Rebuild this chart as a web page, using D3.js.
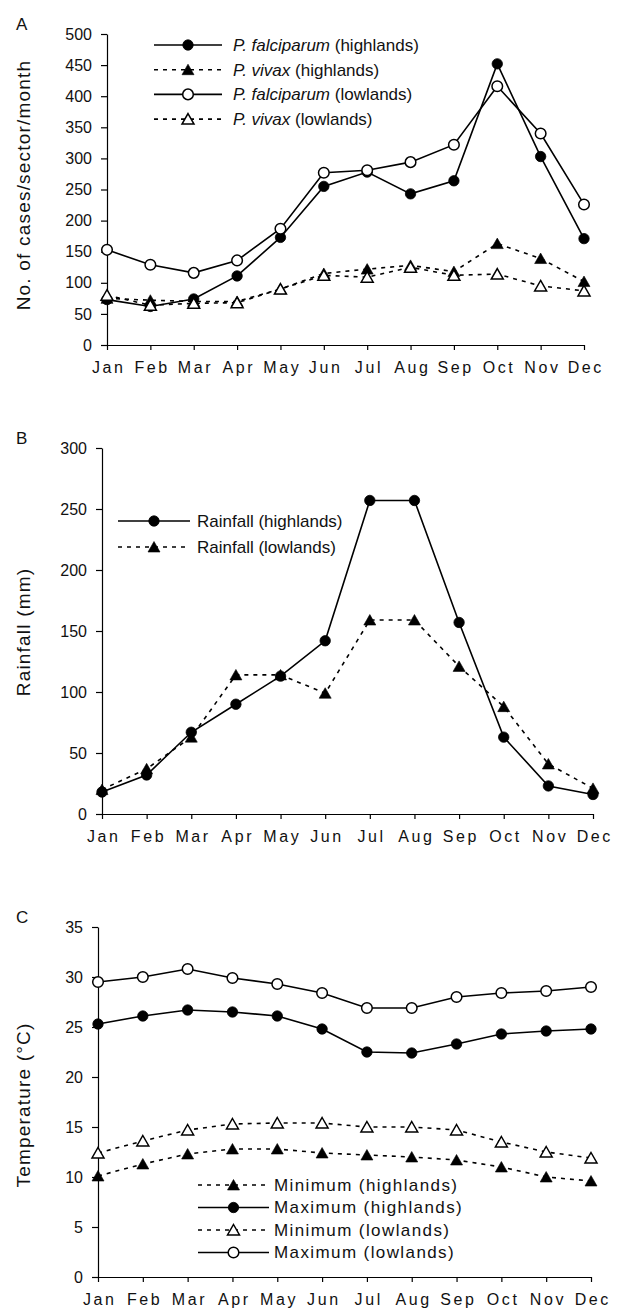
<!DOCTYPE html>
<html>
<head>
<meta charset="utf-8">
<script src="https://cdn.jsdelivr.net/npm/d3@7"></script>
<style>
    body { margin: 0; background: #fff; }
    svg { display: block; font-family: 'Liberation Sans', Arial, Helvetica, sans-serif; }
</style>
</head>
<body>
<svg id="chart" width="621" height="1310"></svg>
<script>
'use strict'

// ---- data ----
let months = ['Jan', 'Feb', 'Mar', 'Apr', 'May', 'Jun', 'Jul', 'Aug', 'Sep', 'Oct', 'Nov', 'Dec']

let casesTicks = [0, 50, 100, 150, 200, 250, 300, 350, 400, 450, 500]
let rainTicks = [0, 50, 100, 150, 200, 250, 300]
let tempTicks = [0, 5, 10, 15, 20, 25, 30, 35]

// A: cases per sector per month
let pfHighlands = [73, 62, 74, 111, 173, 255, 278, 243, 264, 452, 303, 171]
let pvHighlands = [75, 72, 70, 70, 90, 115, 122, 128, 118, 163, 139, 102]
let pfLowlands = [153, 129, 116, 136, 187, 277, 281, 294, 322, 416, 340, 226]
let pvLowlands = [80, 64, 67, 68, 90, 112, 109, 125, 112, 114, 95, 87]

// B: rainfall (mm)
let rainHighlands = [18, 32, 67, 90, 113, 142, 257, 257, 157, 63, 23, 16]
let rainLowlands = [20, 37, 63, 114, 114, 99, 159, 159, 121, 88, 41, 21]

// C: temperature (°C)
let minHighlands = [10.1, 11.3, 12.3, 12.8, 12.8, 12.4, 12.2, 12.0, 11.7, 11.0, 10.0, 9.6]
let maxHighlands = [25.3, 26.1, 26.7, 26.5, 26.1, 24.8, 22.5, 22.4, 23.3, 24.3, 24.6, 24.8]
let minLowlands = [12.4, 13.6, 14.7, 15.3, 15.4, 15.4, 15.0, 15.0, 14.7, 13.5, 12.5, 11.9]
let maxLowlands = [29.5, 30.0, 30.8, 29.9, 29.3, 28.4, 26.9, 26.9, 28.0, 28.4, 28.6, 29.0]

// ---- panels ----
let panels = [
    {
        letter: 'A', title: 'No. of cases/sector/month', ticks: casesTicks,
        left: 107, right: 584, top: 34, bottom: 345, titleY: 185,
        legend: { x: 154, y: 45, step: 24.7, len: 68, gap: 11 },
        series: [
            { italic: 'P. falciparum', label: ' (highlands)', values: pfHighlands, marker: 'dot', dashed: false },
            { italic: 'P. vivax', label: ' (highlands)', values: pvHighlands, marker: 'tri', dashed: true },
            { italic: 'P. falciparum', label: ' (lowlands)', values: pfLowlands, marker: 'circle', dashed: false },
            { italic: 'P. vivax', label: ' (lowlands)', values: pvLowlands, marker: 'otri', dashed: true }
        ]
    },
    {
        letter: 'B', title: 'Rainfall (mm)', ticks: rainTicks,
        left: 102, right: 593, top: 448, bottom: 814, titleY: 632,
        legend: { x: 118, y: 521, step: 26, len: 72, gap: 7 },
        series: [
            { italic: '', label: 'Rainfall (highlands)', values: rainHighlands, marker: 'dot', dashed: false },
            { italic: '', label: 'Rainfall (lowlands)', values: rainLowlands, marker: 'tri', dashed: true }
        ]
    },
    {
        letter: 'C', title: 'Temperature (\u00B0C)', ticks: tempTicks,
        left: 98, right: 591, top: 927, bottom: 1277, titleY: 1105,
        legend: { x: 198, y: 1185, step: 22.5, len: 71, gap: 5, spacing: 1.4 },
        series: [
            { italic: '', label: 'Minimum (highlands)', values: minHighlands, marker: 'tri', dashed: true },
            { italic: '', label: 'Maximum (highlands)', values: maxHighlands, marker: 'dot', dashed: false },
            { italic: '', label: 'Minimum (lowlands)', values: minLowlands, marker: 'otri', dashed: true },
            { italic: '', label: 'Maximum (lowlands)', values: maxLowlands, marker: 'circle', dashed: false }
        ]
    }
]

let svg = d3.select('#chart')

function addMarker(sel, type) {
    if (type === 'dot' || type === 'circle') {
        sel.append('circle')
            .attr('r', type === 'dot' ? 5.2 : 5.3)
            .attr('fill', type === 'dot' ? '#000' : '#fff')
            .attr('stroke', '#000')
            .attr('stroke-width', type === 'dot' ? 0.8 : 1.5)
    } else {
        sel.append('path')
            .attr('d', 'M0,-5.5L6,5L-6,5Z')
            .attr('fill', type === 'tri' ? '#000' : '#fff')
            .attr('stroke', '#000')
            .attr('stroke-width', type === 'tri' ? 0.6 : 1.5)
            .attr('stroke-linejoin', 'miter')
    }
}

function styleLine(sel, dashed) {
    sel.attr('fill', 'none')
        .attr('stroke', '#000')
        .attr('stroke-width', 1.6)
        .attr('stroke-dasharray', dashed ? '4,5' : null)
}

panels.forEach(p => {
    let x = d3.scalePoint().domain(months).range([p.left, p.right])
    let y = d3.scaleLinear().domain([0, d3.max(p.ticks)]).range([p.bottom, p.top])

    let g = svg.append('g')

    // axes
    let xAxis = g.append('g')
        .attr('transform', `translate(0, ${p.bottom})`)
        .call(d3.axisBottom(x).tickSize(5).tickSizeOuter(0).tickPadding(12))
    xAxis.selectAll('text')
        .attr('font-size', '16px')
        .attr('letter-spacing', '2.6px')
        .attr('dx', '1.3px')
        .attr('fill', '#111')

    let yAxis = g.append('g')
        .attr('transform', `translate(${p.left}, 0)`)
        .call(d3.axisLeft(y).tickValues(p.ticks).tickSize(6).tickSizeOuter(0).tickPadding(9))
    yAxis.selectAll('text')
        .attr('font-size', '16px')
        .attr('fill', '#111')

    g.selectAll('.domain, .tick line').attr('stroke', '#000').attr('stroke-width', 1.2)
    g.selectAll('g').attr('font-family', null)

    // panel letter and axis title
    g.append('text')
        .attr('x', 16)
        .attr('y', p.top - 4)
        .attr('font-size', '17px')
        .attr('fill', '#111')
        .text(p.letter)

    g.append('text')
        .attr('transform', `translate(30, ${p.titleY}) rotate(-90)`)
        .attr('text-anchor', 'middle')
        .attr('font-size', '19px')
        .attr('letter-spacing', '1.2px')
        .attr('fill', '#111')
        .text(p.title)

    // series
    let line = d3.line().x((d, i) => x(months[i])).y(d => y(d))

    p.series.forEach(s => {
        g.append('path').datum(s.values).attr('d', line).call(styleLine, s.dashed)

        g.append('g')
            .selectAll('g')
            .data(s.values)
            .enter()
            .append('g')
            .attr('transform', (d, i) => `translate(${x(months[i])}, ${y(d)})`)
            .each(function () { addMarker(d3.select(this), s.marker) })
    })

    // legend
    let lg = p.legend
    let items = g.append('g')
        .selectAll('g')
        .data(p.series)
        .enter()
        .append('g')
        .attr('transform', (d, i) => `translate(${lg.x}, ${lg.y + i * lg.step})`)

    items.append('line')
        .attr('x1', 0)
        .attr('x2', lg.len)
        .each(function (d) { styleLine(d3.select(this), d.dashed) })

    items.append('g')
        .attr('transform', `translate(${lg.len / 2}, 0)`)
        .each(function (d) { addMarker(d3.select(this), d.marker) })

    let label = items.append('text')
        .attr('x', lg.len + lg.gap)
        .attr('dy', '0.35em')
        .attr('font-size', '17px')
        .attr('letter-spacing', lg.spacing ? `${lg.spacing}px` : null)
        .attr('fill', '#111')

    label.append('tspan').attr('font-style', 'italic').text(d => d.italic)
    label.append('tspan').text(d => d.label)
})
</script>
</body>
</html>
